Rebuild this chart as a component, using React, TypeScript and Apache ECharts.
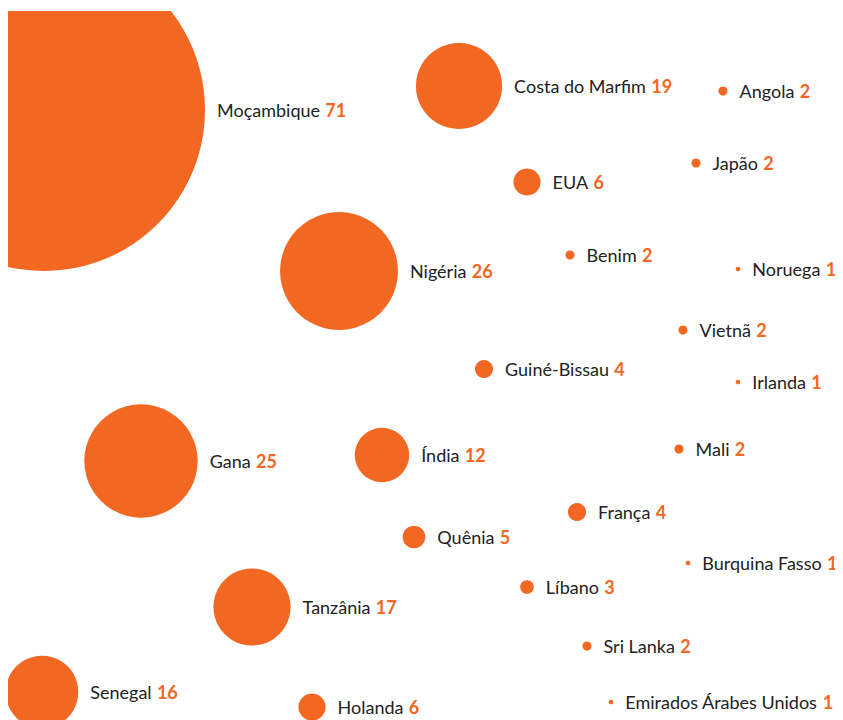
import React, { useEffect, useRef } from "react";
import * as echarts from "echarts";

const countries = [
  "Moçambique", "Costa do Marfim", "Angola", "Japão", "EUA", "Nigéria", "Benim", "Noruega",
  "Vietnã", "Guiné-Bissau", "Irlanda", "Gana", "Índia", "Mali", "França", "Quênia",
  "Burquina Fasso", "Líbano", "Tanzânia", "Sri Lanka", "Senegal", "Holanda", "Emirados Árabes Unidos",
];
const counts = [71, 19, 2, 2, 6, 26, 2, 1, 2, 4, 1, 25, 12, 2, 4, 5, 1, 3, 17, 2, 16, 6, 1];
const xPos = [44, 459, 723, 696, 527, 339, 570, 738, 683, 484, 738, 141, 382, 679, 577, 414, 688, 527, 252, 587, 42, 312, 611];
const yPos = [110, 86, 91, 163, 182, 271, 255, 269, 330, 369, 382, 461, 455, 449, 512, 537, 563, 587, 607, 646, 692, 707, 702];

const ORANGE = "#F26722";

export default function App() {
  const ref = useRef<HTMLDivElement>(null);
  useEffect(() => {
    if (!ref.current) return;
    const chart = echarts.init(ref.current, null, { renderer: "svg" });
    const data = countries.map((c, i) => ({ name: c, value: [xPos[i], yPos[i], counts[i]] }));
    chart.setOption({
      animation: false,
      grid: { left: 0, right: 0, top: 0, bottom: 0 },
      xAxis: { type: "value", min: 8, max: 843, show: false },
      yAxis: { type: "value", min: 11, max: 720, inverse: true, show: false },
      series: [
        {
          type: "scatter",
          clip: false,
          data,
          symbolSize: (v: number[]) => (v[2] * 322) / 71,
          itemStyle: { color: ORANGE, opacity: 1 },
          label: {
            show: true,
            position: "right",
            distance: 12,
            formatter: (p: any) => `{n|${p.name}} {v|${p.value[2]}}`,
            rich: {
              n: { fontFamily: "Lato", fontSize: 18, color: "#222", padding: [0, 2, 0, 0] },
              v: { fontFamily: "Lato", fontSize: 18, fontWeight: "bold", color: ORANGE },
            },
          },
          emphasis: { disabled: true },
        },
      ],
    });
    return () => chart.dispose();
  }, []);
  return <div ref={ref} style={{ width: 835, height: 709, marginTop: 3, overflow: "hidden" }} />;
}
